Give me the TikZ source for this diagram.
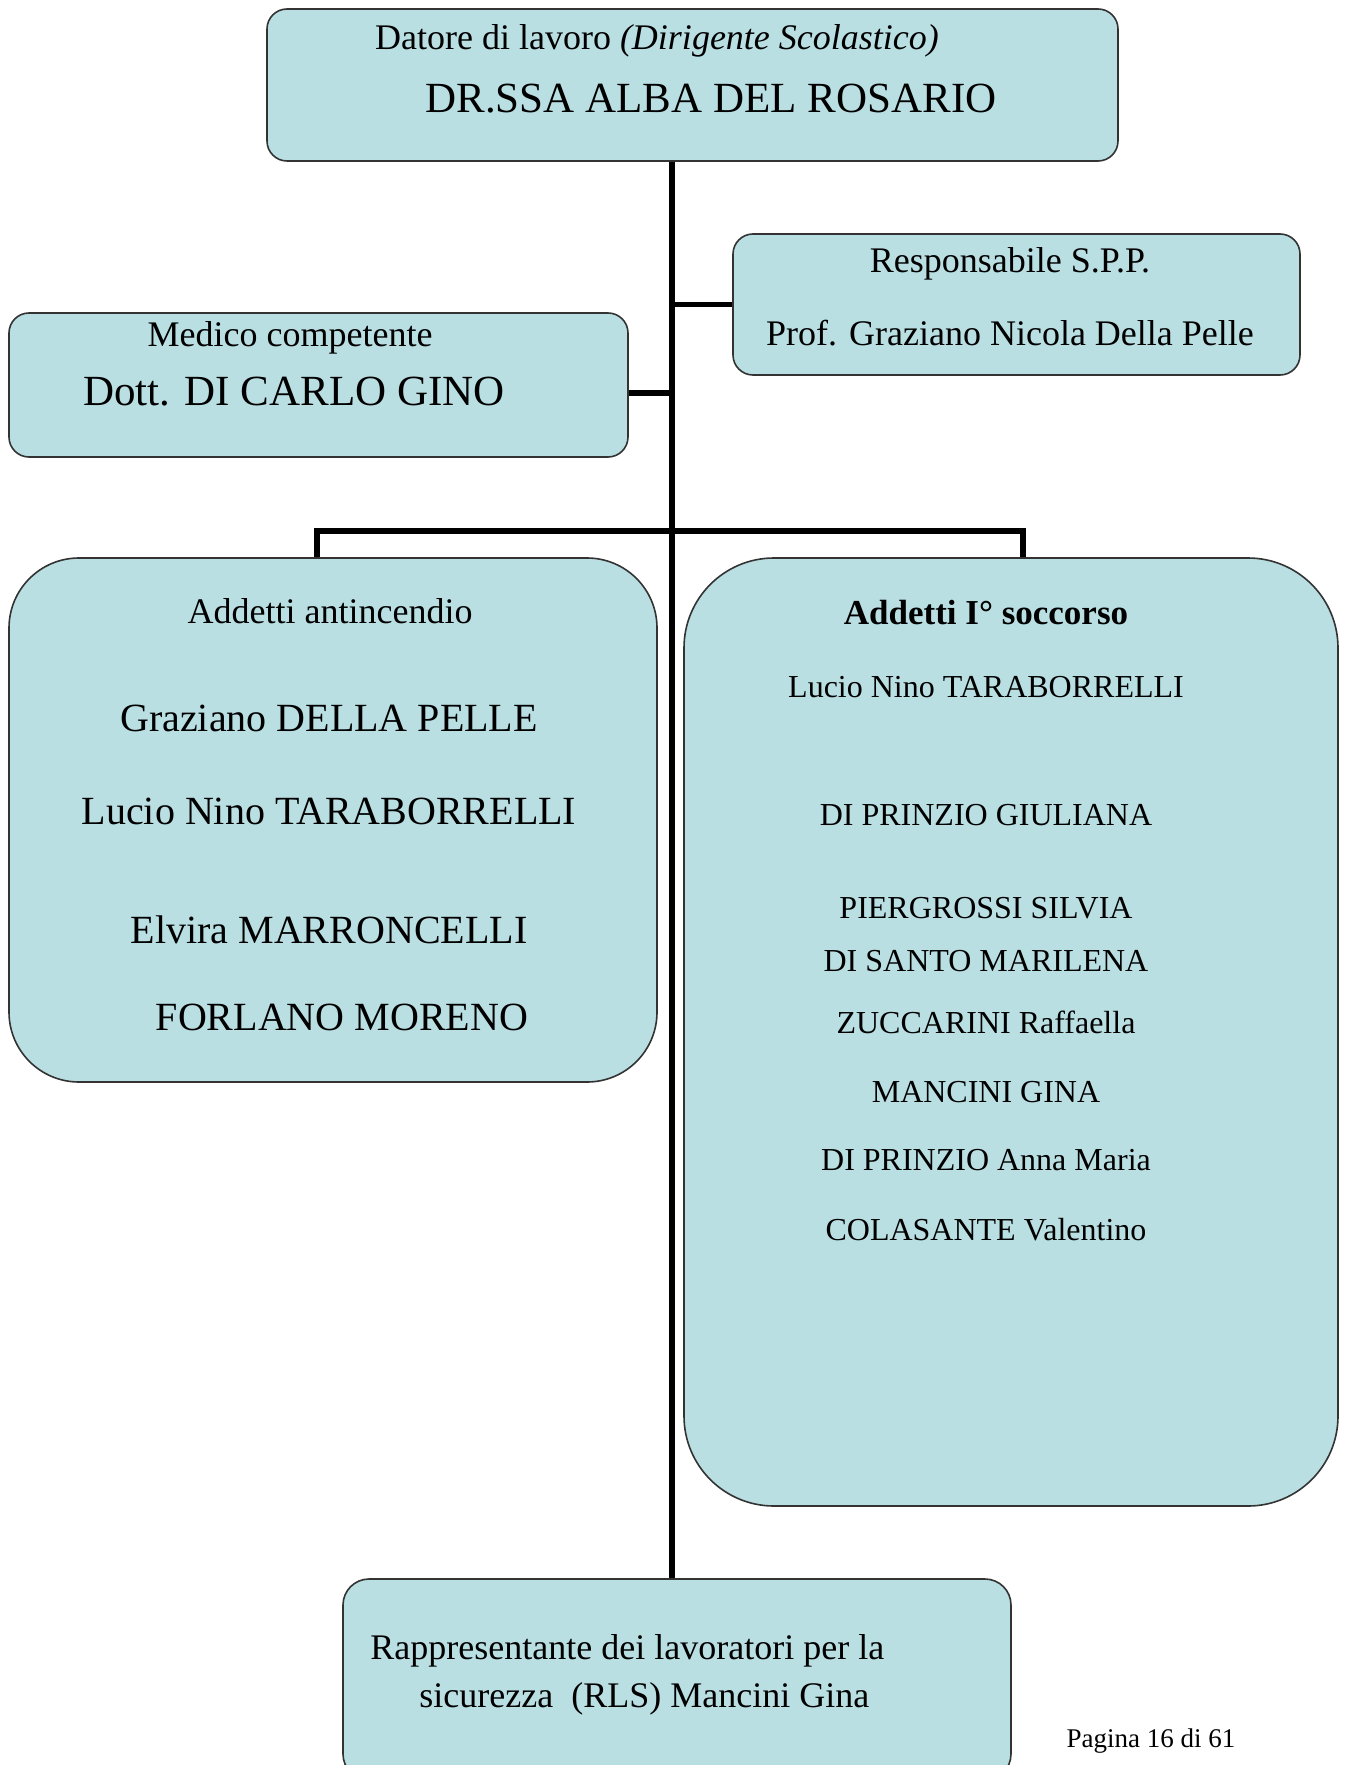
\documentclass[tikz,border=0pt]{standalone}
\usepackage{fontspec}
\setmainfont{Liberation Serif}
\definecolor{boxblue}{RGB}{185,223,227}

\begin{document}
\begin{tikzpicture}[x=0.5pt, y=-0.5pt,
        box/.style={draw=black!80, line width=0.8pt, fill=boxblue, inner sep=0pt, rounded corners=10pt},
        link/.style={black, line width=2.8pt},
        txt/.style={anchor=base, inner sep=0pt, font=\fontsize{18}{21}\selectfont},
        bigtxt/.style={anchor=base, inner sep=0pt, font=\fontsize{21.5}{25}\selectfont},
        nametxt/.style={anchor=base, inner sep=0pt, font=\fontsize{20}{24}\selectfont},
        smalltxt/.style={anchor=base, inner sep=0pt, font=\fontsize{16}{19}\selectfont}]
                \clip (0,0) rectangle (1345,1765);
                \node[box, minimum width=425.5pt, minimum height=76pt] (datore) at (692.5,85) {};
                \node[box, minimum width=283.5pt, minimum height=70.5pt] (spp) at (1016.5,304.5) {};
                \node[box, minimum width=309.5pt, minimum height=72pt] (medico) at (318.5,385) {};
                \node[box, minimum width=324pt, minimum height=262pt, rounded corners=35pt] (antinc) at (333,820) {};
                \node[box, minimum width=327pt, minimum height=474pt, rounded corners=45pt] (socc) at (1011,1032) {};
                \node[box, minimum width=334pt, minimum height=100.5pt, rounded corners=13pt] (rls) at (677,1679.5) {};
                \coordinate (trunk) at (672,800);
                \coordinate (bar) at (672,531);
                \draw[link, line width=3pt] (datore.south -| trunk) -- (rls.north -| trunk);
                \draw[link] (spp.west) -- (spp.west -| trunk);
                \draw[link] ([yshift=-4pt]medico.east) -- ([yshift=-4pt]medico.east -| trunk);
                \draw[link] ([xshift=-8pt]antinc.north) |- (bar) -| ([xshift=6pt]socc.north);
                \node[txt] (datoretitle) at (657,50) {Datore di lavoro \textit{(Dirigente Scolastico)}};
                \node[bigtxt] (datorename) at (711,113) {DR.SSA ALBA DEL ROSARIO};
                \node[txt] (spptitle) at (1010,273) {Responsabile S.P.P.};
                \node[txt] (sppname) at (1010,346) {Prof. Graziano Nicola Della Pelle};
                \node[txt] (medicotitle) at (290,347) {Medico competente};
                \node[bigtxt] (mediconame) at (294,405) {Dott. DI CARLO GINO};
                \node[txt] (antinctitle) at (330,623) {Addetti antincendio};
                \node[nametxt] (antincA) at (329,731) {Graziano DELLA PELLE};
                \node[nametxt] (antincB) at (329,824) {Lucio Nino TARABORRELLI};
                \node[nametxt] (antincC) at (329,943) {Elvira MARRONCELLI};
                \node[nametxt] (antincD) at (342,1030) {FORLANO MORENO};
                \node[txt, font=\fontsize{17.5}{20}\selectfont\bfseries] (socctitle) at (986,624) {Addetti I° soccorso};
                \node[smalltxt] (soccA) at (986,697) {Lucio Nino TARABORRELLI};
                \node[smalltxt] (soccB) at (986,825) {DI PRINZIO GIULIANA};
                \node[smalltxt] (soccC) at (986,918) {PIERGROSSI SILVIA};
                \node[smalltxt] (soccD) at (986,971) {DI SANTO MARILENA};
                \node[smalltxt] (soccE) at (986,1033) {ZUCCARINI Raffaella};
                \node[smalltxt] (soccF) at (986,1102) {MANCINI GINA};
                \node[smalltxt] (soccG) at (986,1170) {DI PRINZIO Anna Maria};
                \node[smalltxt] (soccH) at (986,1240) {COLASANTE Valentino};
                \node[txt, anchor=base west] (rlsA) at (370,1659) {Rappresentante dei lavoratori per la};
                \node[txt, anchor=base west] (rlsB) at (419,1707) {sicurezza\ \ (RLS) Mancini Gina};
                \node[anchor=base, inner sep=0pt, font=\fontsize{13.5}{16}\selectfont] (pagina) at (1151,1747) {Pagina 16 di 61};
\end{tikzpicture}
\end{document}
